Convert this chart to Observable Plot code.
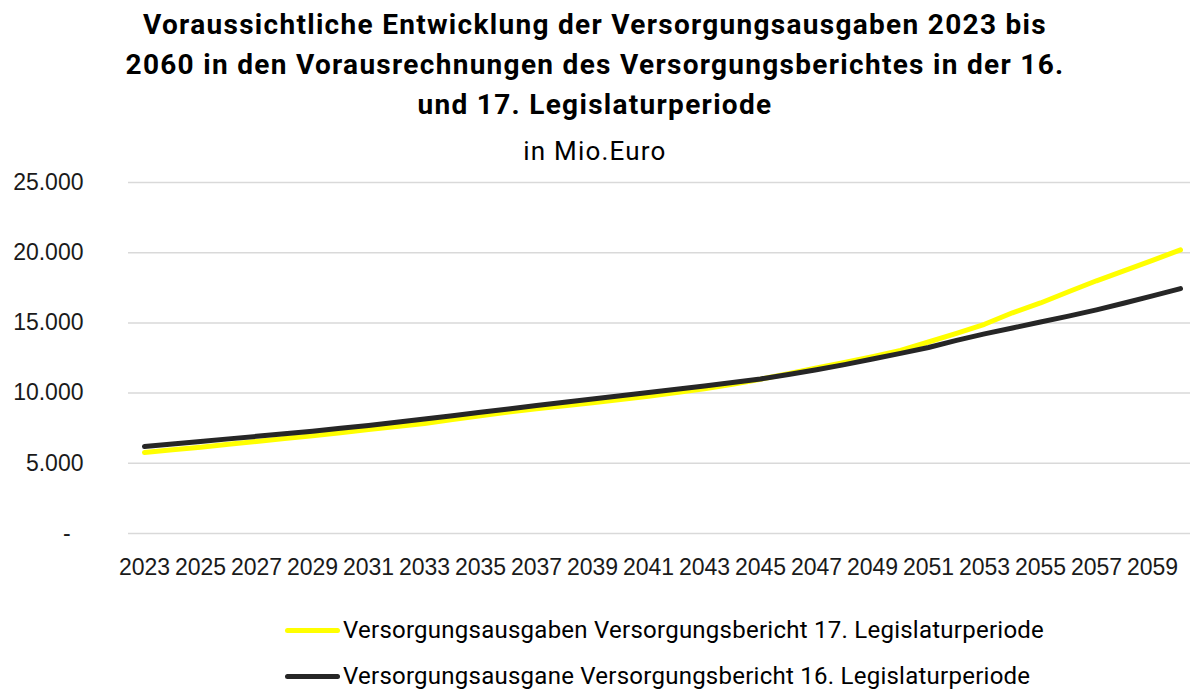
<!DOCTYPE html>
<html><head><meta charset="utf-8">
<script src="https://cdn.jsdelivr.net/npm/d3@7"></script>
<script src="https://cdn.jsdelivr.net/npm/@observablehq/plot@0.6"></script>
<style>
body{margin:0;background:#fff;width:1190px;height:690px;overflow:hidden;font-family:Roboto,sans-serif;color:#000;position:relative}
#title{position:absolute;left:0;top:5px;width:1190px;text-align:center;font-weight:700;font-size:28px;letter-spacing:1.3px;line-height:40px}
#sub{position:absolute;left:0;top:136px;width:1190px;text-align:center;font-size:26px;letter-spacing:1.2px;line-height:30px}
#chart{position:absolute;left:0;top:165px}
#legend{position:absolute;left:285px;top:607px;font-size:24px;letter-spacing:0.25px}
.item{display:flex;align-items:center;height:46px}
.swatch{width:55px;height:5px;border-radius:3px;margin-right:3px}
</style></head><body>
<div id="title">Voraussichtliche Entwicklung der Versorgungsausgaben 2023 bis<br>2060 in den Vorausrechnungen des Versorgungsberichtes in der 16.<br>und 17. Legislaturperiode</div>
<div id="sub">in Mio.Euro</div>
<div id="chart"></div>
<div id="legend"></div>
<script>
const years = [2023,2024,2025,2026,2027,2028,2029,2030,2031,2032,2033,2034,2035,2036,2037,2038,2039,2040,2041,2042,2043,2044,2045,2046,2047,2048,2049,2050,2051,2052,2053,2054,2055,2056,2057,2058,2059,2060];
const bericht17 = [5770,5960,6150,6350,6550,6760,6970,7180,7400,7620,7840,8110,8390,8660,8880,9100,9320,9540,9780,10040,10310,10620,10990,11390,11790,12190,12600,13040,13640,14250,14900,15720,16420,17220,18000,18720,19460,20200];
const bericht16 = [6200,6380,6560,6740,6920,7100,7290,7490,7700,7920,8150,8390,8630,8870,9110,9350,9580,9810,10040,10270,10500,10750,11010,11320,11660,12030,12430,12830,13250,13750,14220,14640,15060,15480,15930,16420,16920,17440];
const seriesNames = ["Versorgungsausgaben Versorgungsbericht 17. Legislaturperiode","Versorgungsausgane Versorgungsbericht 16. Legislaturperiode"];
const seriesColors = ["#FFFF00","#262626"];
const yTicks = [0,5000,10000,15000,20000,25000];
const xTickYears = [2023,2025,2027,2029,2031,2033,2035,2037,2039,2041,2043,2045,2047,2049,2051,2053,2055,2057,2059];

const de = d3.formatLocale({decimal:",",thousands:".",grouping:[3],currency:["","€"]});
const fmt = v => v === 0 ? "-\u00a0\u00a0" : de.format(",d")(v);
const d17 = years.map((y,i)=>({year:y,value:bericht17[i]}));
const d16 = years.map((y,i)=>({year:y,value:bericht16[i]}));

const chart = Plot.plot({
  width:1190, height:428,
  marginLeft:142, marginRight:8, marginTop:17, marginBottom:60,
  style:{fontFamily:"'Liberation Sans', Arial, sans-serif", color:"#1a1a1a", background:"transparent"},
  x:{type:"point", domain:years, padding:0},
  y:{domain:[0,25000]},
  marks:[
    Plot.ruleY(yTicks,{stroke:"#d9d9d9", strokeWidth:1.5, insetLeft:-14, insetRight:-8}),
    Plot.axisY(yTicks,{tickSize:0, tickPadding:59, tickFormat:fmt, fontSize:23, label:null}),
    Plot.axisX(xTickYears,{tickSize:0, tickPadding:25, tickFormat:d=>String(d), fontSize:23, label:null}),
    Plot.line(d17,{x:"year", y:"value", stroke:seriesColors[0], strokeWidth:5, strokeLinecap:"round", strokeLinejoin:"round"}),
    Plot.line(d16,{x:"year", y:"value", stroke:seriesColors[1], strokeWidth:5, strokeLinecap:"round", strokeLinejoin:"round"})
  ]
});
document.getElementById("chart").appendChild(chart);

const leg = document.getElementById("legend");
seriesNames.forEach((n,i)=>{
  const it = document.createElement("div"); it.className="item";
  const sw = document.createElement("div"); sw.className="swatch"; sw.style.background=seriesColors[i];
  const tx = document.createElement("span"); tx.textContent=n;
  it.appendChild(sw); it.appendChild(tx); leg.appendChild(it);
});
</script>
</body></html>
